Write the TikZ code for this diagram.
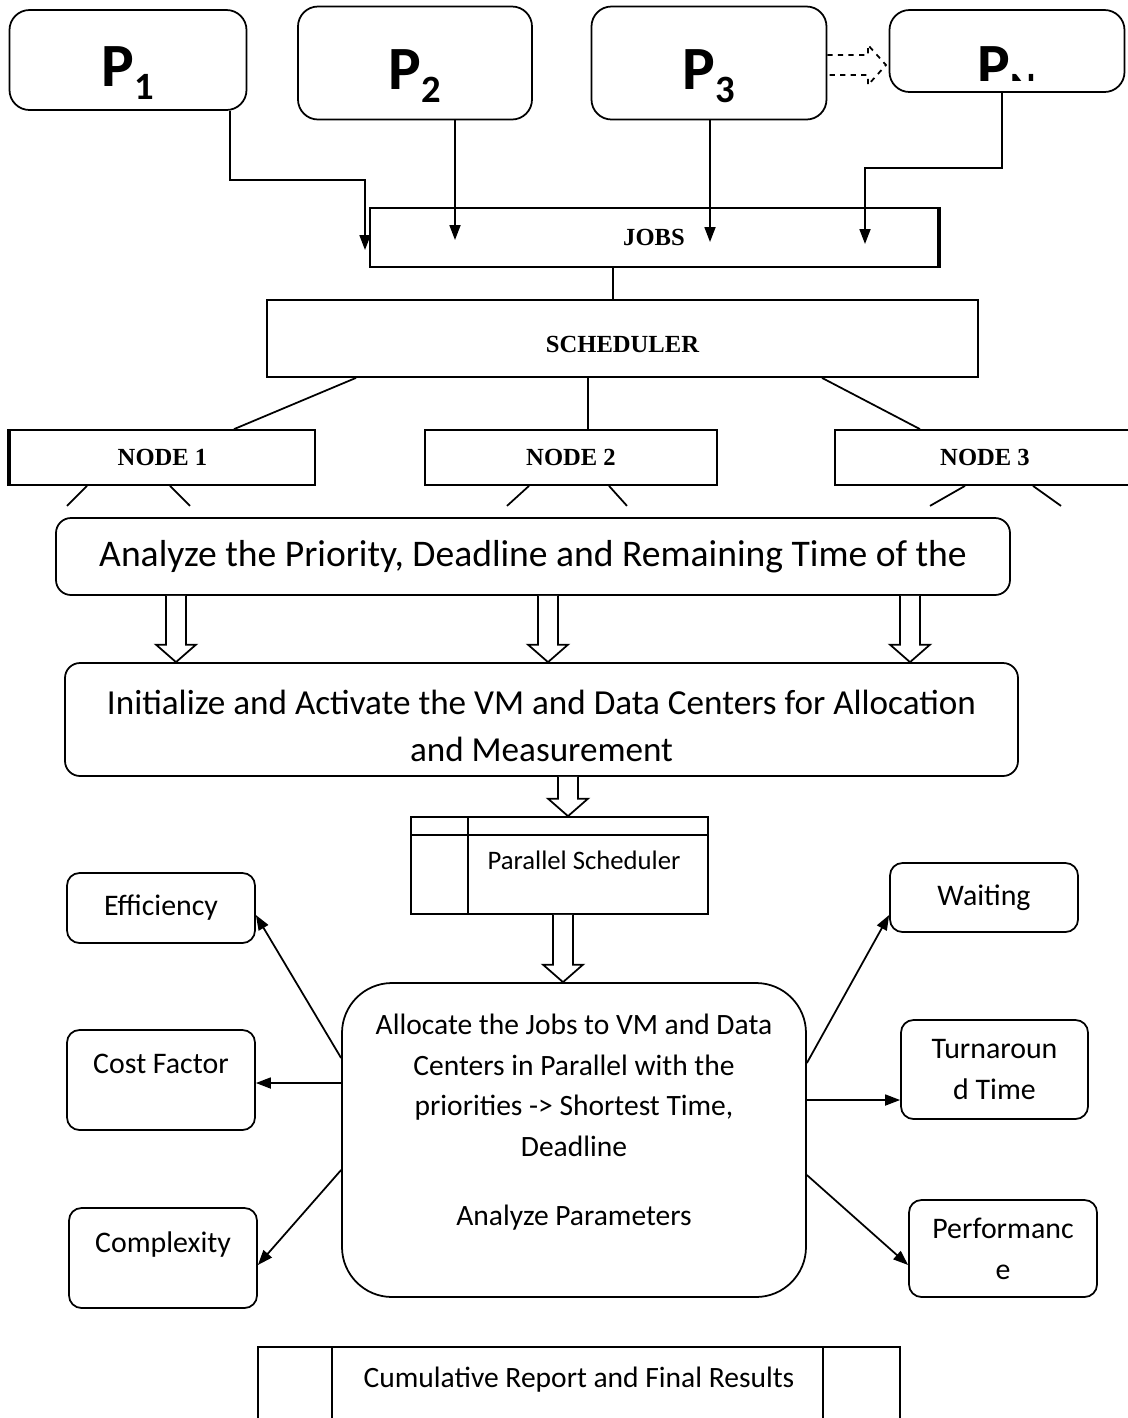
\documentclass[tikz,border=0pt]{standalone}
\usepackage{fontspec}
\setmainfont{Carlito}
\newfontfamily\timesfont{Liberation Serif}
\usetikzlibrary{arrows.meta,calc}

\tikzset{
  pbox/.style={draw, line width=1pt, rounded corners=0.4cm, text height=1.2cm, text depth=0.16cm, font=\fontsize{35}{40}\selectfont\bfseries},
  jbox/.style={draw, line width=1pt, font=\timesfont\fontsize{14}{16}\selectfont\bfseries},
  bigbox/.style={draw, line width=1pt, rounded corners=0.3cm, font=\fontsize{20}{27}\selectfont, align=center},
  sidebox/.style={draw, line width=1pt, rounded corners=0.25cm, font=\fontsize{17}{23.2}\selectfont, align=center},
  shiftup/.style={text depth=0.65cm},
  arr/.style={line width=1pt, -{Triangle[length=0.3cm,width=0.22cm]}},
  hollow/.style={line width=1pt, fill=white}
}

\newcommand{\psub}[1]{\raisebox{-0.22em}{\fontsize{22}{22}\selectfont #1}}
\newcommand{\hollowdown}[2]{%
  \draw[hollow] let \p1=#1, \p2=#2 in
    (\x1-0.2cm,\y1) -- (\x1-0.2cm,\y2+0.35cm) -- (\x1-0.4cm,\y2+0.35cm) -- (\x1,\y2)
    -- (\x1+0.4cm,\y2+0.35cm) -- (\x1+0.2cm,\y2+0.35cm) -- (\x1+0.2cm,\y1);}

\begin{document}
\begin{tikzpicture}[x=0.02cm,y=-0.02cm]
\def\unitpx{0.02cm}
\useasboundingbox (0,0) rectangle (1128,1418);

% processes
\node[pbox, minimum width=237*\unitpx, minimum height=100*\unitpx] (p1) at (128,60) {P\psub{1}};
\node[pbox, minimum width=234*\unitpx, minimum height=113*\unitpx] (p2) at (415,63) {P\psub{2}};
\node[pbox, minimum width=235*\unitpx, minimum height=113*\unitpx] (p3) at (709,63) {P\psub{3}};
\node[pbox, minimum width=235*\unitpx, minimum height=82*\unitpx] (pN) at (1007,51) {};
\begin{scope}
\clip (890,10) rectangle (1125,80);
\node[font=\fontsize{35}{40}\selectfont\bfseries] (pNlabel) at (1007,73) {P\psub{N}};
\end{scope}
\draw[dashed, line width=1pt] (p3.east |- 0,55) -- (868,55) -- (868,45) -- (886,65) -- (868,85) -- (868,75) -- (p3.east |- 0,75);

% jobs and scheduler
\node[jbox, minimum width=568*\unitpx, minimum height=59*\unitpx] (jobs) at (654,237.5) {JOBS};
\draw[line width=2pt] (jobs.north east) -- (jobs.south east);
\node[jbox, text height=0.57cm, minimum width=711*\unitpx, minimum height=77*\unitpx] (sched) at (622.5,338.5) {SCHEDULER};
\coordinate (j1) at (365,250);
\coordinate (j2) at (455,240);
\coordinate (j3) at (710,242);
\coordinate (j4) at (865,244);
\draw[arr] (230,0 |- p1.south) |- (365,180) -- (j1);
\draw[arr] (j2 |- p2.south) -- (j2);
\draw[arr] (j3 |- p3.south) -- (j3);
\draw[arr] (1002,0 |- pN.south) |- (865,168) -- (j4);
\draw[line width=1pt] (613,0 |- jobs.south) -- (613,0 |- sched.north);

% nodes
\node[jbox, minimum width=305*\unitpx, minimum height=55*\unitpx] (node1) at (162.5,457.5) {NODE 1};
\draw[line width=2pt] (node1.north west) -- (node1.south west);
\node[jbox, minimum width=292*\unitpx, minimum height=55*\unitpx] (node2) at (571,457.5) {NODE 2};
\node[jbox, minimum width=300*\unitpx, minimum height=55*\unitpx] (node3) at (985,457.5) {NODE 3};
\draw[line width=1pt] (356,0 |- sched.south) -- (234,0 |- node1.north);
\draw[line width=1pt] (588,0 |- sched.south) -- (588,0 |- node2.north);
\draw[line width=1pt] (822,0 |- sched.south) -- (920,0 |- node3.north);
\draw[line width=1pt] (87,0 |- node1.south) -- ++(-20,20) (170,0 |- node1.south) -- ++(20,20);
\draw[line width=1pt] (529,0 |- node2.south) -- ++(-22,20) (609,0 |- node2.south) -- ++(18,20);
\draw[line width=1pt] (965,0 |- node3.south) -- ++(-35,20) (1033,0 |- node3.south) -- ++(28,20);

% analysis and initialisation
\node[bigbox, font=\fontsize{21.4}{27}\selectfont, minimum width=954*\unitpx, minimum height=77*\unitpx] (analyze) at (533,556.5) {Analyze the Priority, Deadline and Remaining Time of the};
\node[bigbox, minimum width=953*\unitpx, minimum height=113*\unitpx] (init) at (541.5,719.5) {};
\node[font=\fontsize{20}{27}\selectfont, align=center] (inittext) at (541.5,726) {Initialize and Activate the VM and Data Centers for Allocation\\and Measurement};
\foreach \ax in {176,548,910}
  \hollowdown{(\ax,0 |- analyze.south)}{(\ax,0 |- init.north)};

% parallel scheduler
\node[draw, line width=1pt, minimum width=297*\unitpx, minimum height=97*\unitpx] (ps) at (559.5,865.5) {};
\draw[line width=1pt] ([yshift=-19*\unitpx]ps.north west) -- ([yshift=-19*\unitpx]ps.north east);
\draw[line width=1pt] ([xshift=58*\unitpx]ps.north west) -- ([xshift=58*\unitpx]ps.south west);
\node[font=\fontsize{15.2}{18}\selectfont] (pstext) at (584,860) {Parallel Scheduler};
\hollowdown{(568,0 |- init.south)}{(568,0 |- ps.north)}

% allocation
\node[draw, line width=1pt, rounded corners=1cm, minimum width=464*\unitpx, minimum height=314*\unitpx] (alloc) at (574,1140) {};
\node[font=\fontsize{16.8}{23.2}\selectfont, align=center] (alloctext) at (574,1122)
  {Allocate the Jobs to VM and Data\\Centers in Parallel with the\\priorities -> Shortest Time,\\Deadline\\[0.56cm]Analyze Parameters};
\hollowdown{(563,0 |- ps.south)}{(563,0 |- alloc.north)}

% parameters
\node[sidebox, minimum width=188*\unitpx, minimum height=70*\unitpx] (eff) at (161,908) {Efficiency};
\node[sidebox, shiftup, minimum width=188*\unitpx, minimum height=100*\unitpx] (cost) at (161,1080) {Cost Factor};
\node[sidebox, shiftup, minimum width=188*\unitpx, minimum height=100*\unitpx] (cplx) at (163,1258) {Complexity};
\node[sidebox, minimum width=188*\unitpx, minimum height=69*\unitpx] (wait) at (984,897.5) {Waiting};
\node[sidebox, minimum width=187*\unitpx, minimum height=99*\unitpx] (turn) at (994.5,1069.5) {Turnaroun\\d Time};
\node[sidebox, minimum width=188*\unitpx, minimum height=97*\unitpx] (perf) at (1003,1248.5) {Performanc\\e};
\draw[arr] (alloc.west |- 0,1058) -- (eff.east |- 0,915);
\draw[arr] (alloc.west |- 0,1083) -- (cost.east |- 0,1083);
\draw[arr] (alloc.west |- 0,1170) -- (cplx.east |- 0,1265);
\draw[arr] (alloc.east |- 0,1063) -- (wait.west |- 0,915);
\draw[arr] (alloc.east |- 0,1100) -- (turn.west |- 0,1100);
\draw[arr] (alloc.east |- 0,1175) -- (perf.west |- 0,1265);

% report
\node[draw, shiftup, line width=1pt, minimum width=642*\unitpx, minimum height=93*\unitpx, font=\fontsize{16.8}{20}\selectfont] (cum) at (579,1393.5) {Cumulative Report and Final Results};
\draw[line width=1pt] ([xshift=75*\unitpx]cum.north west) -- ([xshift=75*\unitpx]cum.south west);
\draw[line width=1pt] ([xshift=-78*\unitpx]cum.north east) -- ([xshift=-78*\unitpx]cum.south east);
\end{tikzpicture}
\end{document}
